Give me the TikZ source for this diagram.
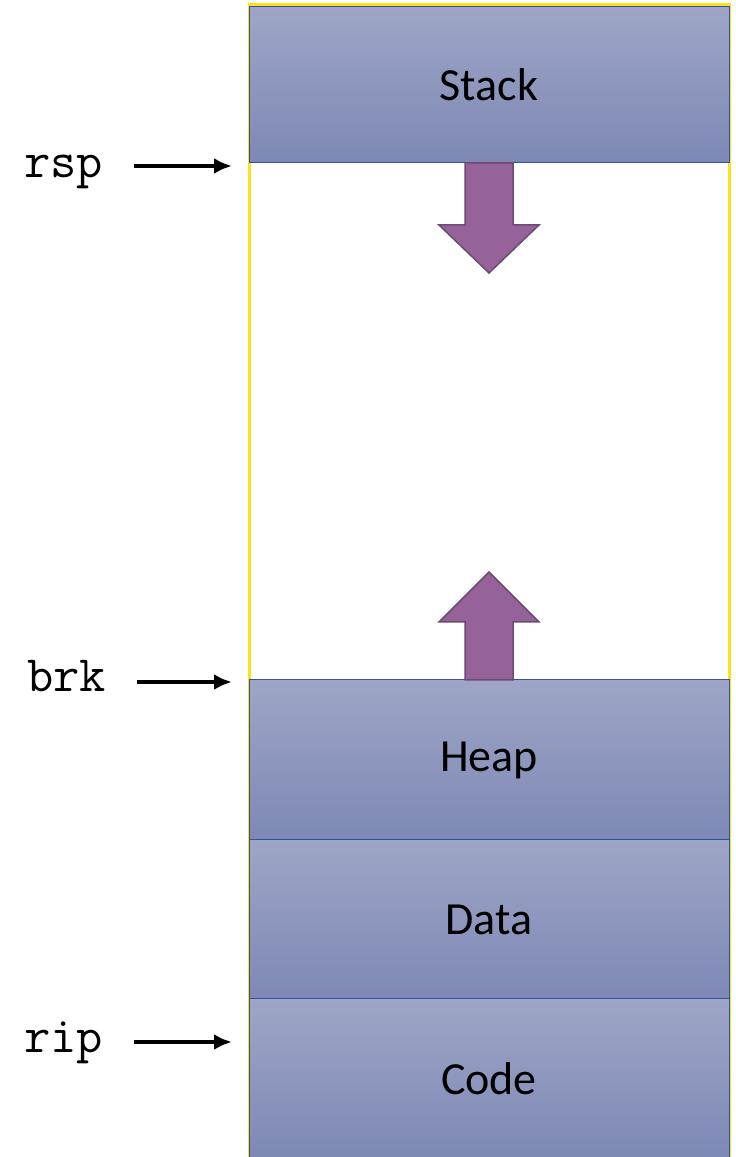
\documentclass[tikz,border=0pt]{standalone}
\usepackage{fontspec}
\setmainfont{Carlito}
\usepackage{tikz}
\usetikzlibrary{positioning}
\usetikzlibrary{arrows.meta}
\definecolor{segtop}{HTML}{9EA5C6}
\definecolor{segbot}{HTML}{7E88B5}
\definecolor{segline}{HTML}{2E54A1}
\definecolor{growfill}{HTML}{956399}
\definecolor{growline}{HTML}{6E4A73}
\definecolor{frameyellow}{HTML}{FFE11A}
\tikzset{segment/.style={rectangle,draw=segline,line width=1pt,top color=segtop,bottom color=segbot,
    minimum width=480pt,minimum height=159pt,inner sep=0pt,outer sep=0pt,
    font=\fontsize{46}{52}\selectfont},
  reg/.style={inner sep=0pt,anchor=base west,font=\ttfamily\fontsize{51}{56}\selectfont},
  ptr/.style={-{Latex[length=18pt,width=16pt]},line width=4pt,shorten <=31pt,shorten >=17pt},
  growarrow/.style={fill=growfill,draw=growline,line width=1.5pt,line join=miter},}

\begin{document}
\begin{tikzpicture}[x=1pt,y=1pt]
    \useasboundingbox (0,0) rectangle (736,1157);
    % address space frame
    \draw[frameyellow,line width=3pt] (249,-5) rectangle (729,1152);

    \node[segment,minimum height=156pt] (stack) at (489,1072) {Stack};
    \node[segment,minimum height=160pt] (heap) at (489,397) {Heap};
    \node[segment] (data) [below = 0pt of heap] {Data};
    \node[segment] (code) [below = 0pt of data] {Code};

    % growth directions
    \draw[growarrow] (465,994) -- (465,932) -- (439,932) -- (489,884) -- (539,932) -- (513,932) -- (513,994) -- cycle;
    \draw[growarrow] (465,477) -- (465,535) -- (439,535) -- (489,585) -- (539,535) -- (513,535) -- (513,477) -- cycle;

    % registers pointing into the address space
    \node[reg] (rsp) at (24,979) {rsp};
    \node[reg] (brk) at (27,465) {brk};
    \node[reg] (rip) at (24,104) {rip};

    \coordinate (rsp-tail) at ([yshift=12pt]rsp.base east);
    \coordinate (brk-tail) at ([yshift=10pt]brk.base east);
    \coordinate (rip-tail) at ([yshift=11pt]rip.base east);

    \draw[ptr] (rsp-tail) -- (rsp-tail -| stack.west);
    \draw[ptr] (brk-tail) -- (brk-tail -| heap.west);
    \draw[ptr] (rip-tail) -- (rip-tail -| code.west);
\end{tikzpicture}
\end{document}
